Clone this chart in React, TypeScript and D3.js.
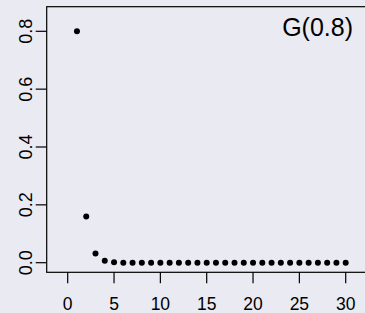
import * as d3 from "d3";
import React from "react";

// geometric pmf G(0.8)
const ks = [1, 2, 3, 4, 5, 6, 7, 8, 9, 10, 11, 12, 13, 14, 15, 16, 17, 18, 19, 20, 21, 22, 23, 24, 25, 26, 27, 28, 29, 30];
const probs = [0.8, 0.16, 0.032, 0.0064, 0.00128, 0.000256, 0.0000512, 0.00001, 0.000002, 0.0000004,
  0, 0, 0, 0, 0, 0, 0, 0, 0, 0, 0, 0, 0, 0, 0, 0, 0, 0, 0, 0];
const xTicks = [0, 5, 10, 15, 20, 25, 30];
const yTicks = [0, 0.2, 0.4, 0.6, 0.8];
const title = "G(0.8)";

export default function App() {
  const svgWidth = 365;
  const svgHeight = 313;
  const box = { left: 46.7, top: 6.7, right: 372, bottom: 272.3 };

  const x = d3.scaleLinear().domain([0, 30]).range([67.7, 345.7]);
  const y = d3.scaleLinear().domain([0, 0.8]).range([262.7, 31.3]);

  const font = "'Liberation Sans', Arial, sans-serif";

  return (
    <svg width={svgWidth} height={svgHeight} style={{ position: "absolute", left: 0, top: 0 }}>
      <rect x={0} y={0} width={svgWidth} height={svgHeight} fill="#EAEAF3" />
      <rect x={box.left} y={box.top} width={box.right - box.left} height={box.bottom - box.top}
        fill="none" stroke="#000" strokeWidth={1.2} />
      {xTicks.map((t) => (
        <g key={"x" + t}>
          <line x1={x(t)} x2={x(t)} y1={box.bottom} y2={box.bottom + 11} stroke="#000" strokeWidth={1.2} />
          <text x={x(t)} y={309.5} textAnchor="middle" fontFamily={font} fontSize={17.5}>{t}</text>
        </g>
      ))}
      {yTicks.map((t) => (
        <g key={"y" + t}>
          <line x1={box.left - 11} x2={box.left} y1={y(t)} y2={y(t)} stroke="#000" strokeWidth={1.2} />
          <text transform={"translate(32.3," + y(t) + ") rotate(-90)"} textAnchor="middle"
            fontFamily={font} fontSize={18}>{t.toFixed(1)}</text>
        </g>
      ))}
      {ks.map((k, i) => (
        <circle key={k} cx={x(k)} cy={y(probs[i])} r={3} fill="#000" />
      ))}
      <text x={353} y={36} textAnchor="end" fontFamily={font} fontSize={25}>{title}</text>
    </svg>
  );
}
